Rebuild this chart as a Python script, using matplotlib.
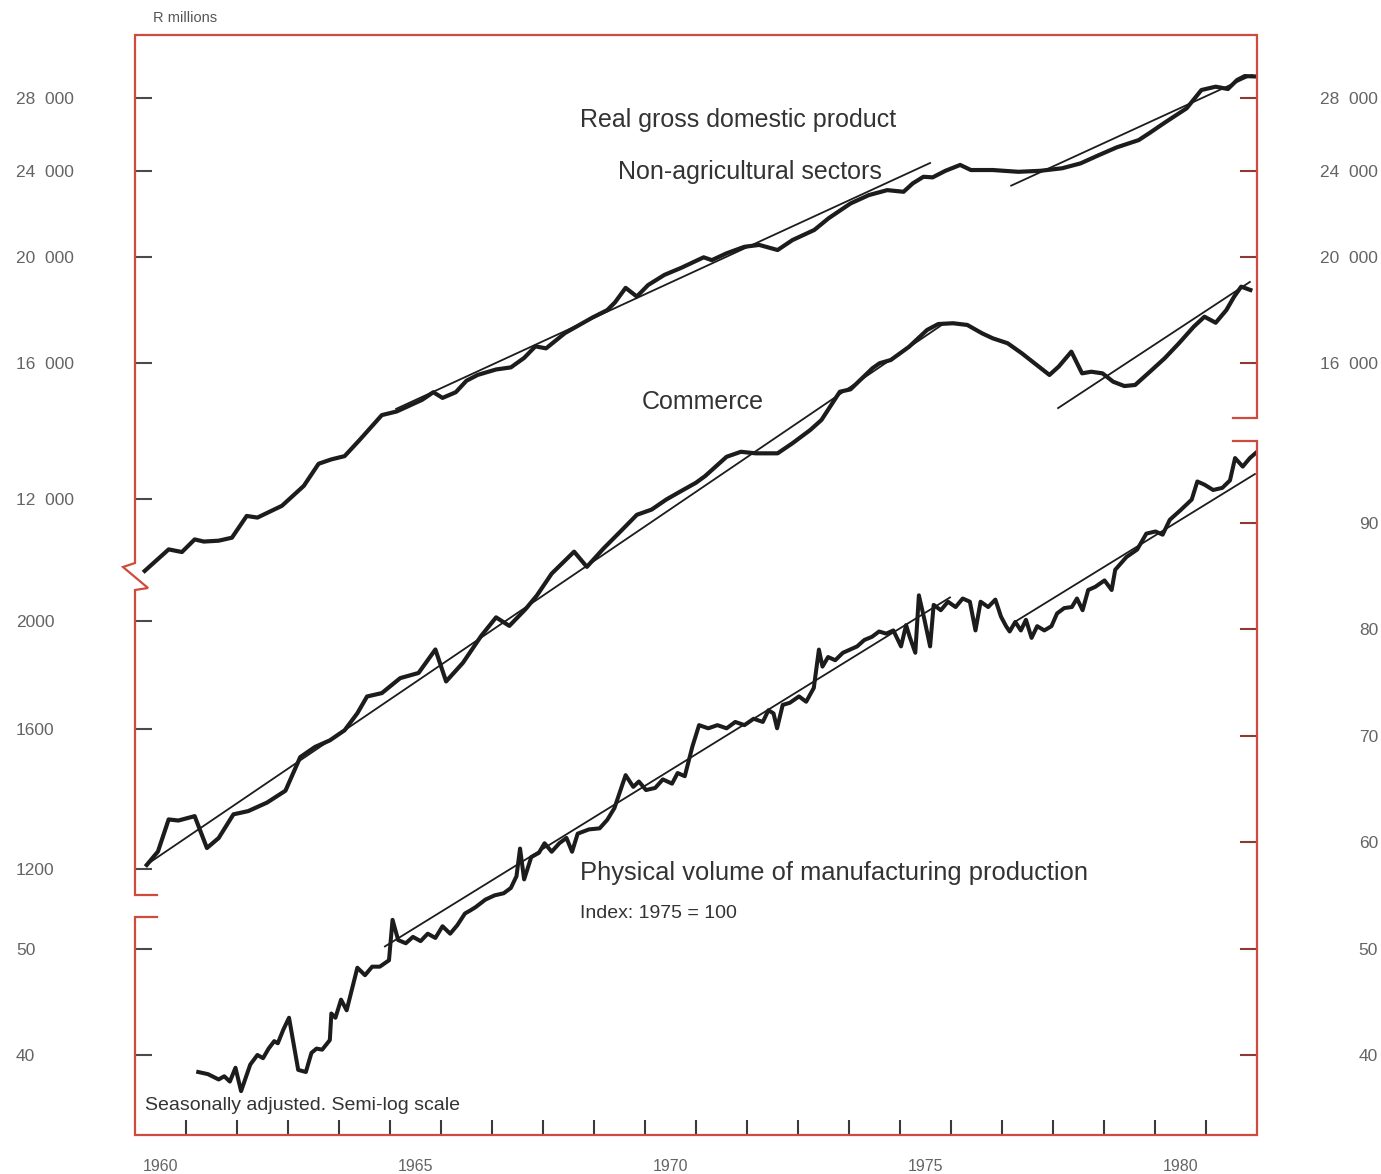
from __future__ import annotations

import matplotlib

matplotlib.use("Agg")
import matplotlib.pyplot as plt
from matplotlib.lines import Line2D
from matplotlib.ticker import NullLocator

OUTPUT_PATH = "out.png"
W, H, DPI = 1381, 1174, 100
PX_PER_PT = DPI / 72

# plot frame in pixels
AX_LEFT, AX_RIGHT, AX_TOP, AX_BOTTOM = 135, 1257, 35, 1135

FRAME = "#cf4b3d"
INK = "#1c1c1c"
TEXT = "#333333"
LABEL = "#646464"

# --- Real GDP, non-agricultural sectors (R millions, log) ---
gdp_year = [1960.19, 1960.66, 1960.92, 1961.17, 1961.35, 1961.64, 1961.90, 1962.19, 1962.40, 1962.88,
            1963.31, 1963.60, 1963.85, 1964.11, 1964.40, 1964.84, 1965.13, 1965.63, 1965.85, 1966.03,
            1966.29, 1966.50, 1966.72, 1967.08, 1967.37, 1967.63, 1967.85, 1968.06, 1968.43, 1968.97,
            1969.26, 1969.41, 1969.62, 1969.84, 1970.06, 1970.38, 1970.71, 1971.15, 1971.31, 1971.60,
            1971.95, 1972.24, 1972.60, 1972.89, 1973.32, 1973.60, 1974.03, 1974.39, 1974.75, 1975.07,
            1975.25, 1975.46, 1975.64, 1975.89, 1976.18, 1976.39, 1976.82, 1977.32, 1977.75, 1978.18,
            1978.54, 1978.90, 1979.25, 1979.68, 1979.90, 1980.19, 1980.62, 1980.91, 1981.19, 1981.43,
            1981.61, 1981.76, 1981.94]
gdp_value = [10310, 10790, 10730, 11020, 10970, 10990, 11060, 11580, 11540, 11830,
             12340, 12930, 13050, 13140, 13590, 14330, 14440, 14800, 15040, 14860,
             15040, 15410, 15600, 15780, 15850, 16170, 16570, 16500, 17040, 17610,
             17890, 18180, 18750, 18410, 18860, 19270, 19560, 20000, 19880, 20170,
             20450, 20530, 20310, 20740, 21190, 21720, 22410, 22810, 23050, 22970,
             23380, 23710, 23680, 24010, 24310, 24050, 24050, 23960, 24010, 24140,
             24390, 24820, 25230, 25620, 26020, 26580, 27400, 28480, 28680, 28540,
             29090, 29330, 29310]
gdp_trend_year = [(1965.12, 1975.59), (1977.18, 1981.90)]
gdp_trend_value = [(14520, 24410), (23270, 29390)]

# --- Commerce (R millions, log) ---
com_year = [1960.23, 1960.45, 1960.66, 1960.85, 1961.17, 1961.41, 1961.64, 1961.93, 1962.22, 1962.59,
            1962.95, 1963.24, 1963.53, 1963.82, 1964.11, 1964.36, 1964.55, 1964.84, 1965.20, 1965.56,
            1965.89, 1966.10, 1966.43, 1966.79, 1967.08, 1967.34, 1967.66, 1967.88, 1968.17, 1968.61,
            1968.86, 1969.19, 1969.55, 1969.84, 1970.13, 1970.42, 1970.71, 1971.00, 1971.18, 1971.60,
            1971.88, 1972.17, 1972.60, 1972.89, 1973.24, 1973.46, 1973.82, 1974.03, 1974.46, 1974.60,
            1974.82, 1975.18, 1975.53, 1975.75, 1976.04, 1976.32, 1976.61, 1976.82, 1977.11, 1977.39,
            1977.68, 1977.93, 1978.11, 1978.36, 1978.57, 1978.75, 1978.97, 1979.18, 1979.40, 1979.61,
            1979.90, 1980.19, 1980.47, 1980.76, 1980.97, 1981.19, 1981.40, 1981.55, 1981.69, 1981.87]
com_value = [1210, 1244, 1329, 1326, 1338, 1253, 1279, 1343, 1352, 1376,
             1410, 1511, 1543, 1564, 1597, 1654, 1712, 1724, 1778, 1797,
             1886, 1766, 1835, 1940, 2015, 1980, 2050, 2108, 2205, 2307,
             2236, 2323, 2413, 2489, 2516, 2569, 2614, 2659, 2696, 2805,
             2834, 2825, 2825, 2884, 2964, 3026, 3207, 3223, 3366, 3401,
             3424, 3519, 3642, 3687, 3693, 3680, 3617, 3580, 3544, 3471,
             3389, 3320, 3377, 3483, 3331, 3342, 3331, 3274, 3245, 3252,
             3342, 3436, 3544, 3667, 3743, 3697, 3795, 3900, 3982, 3955]
com_trend_year = [(1960.24, 1975.82), (1978.10, 1981.86)]
com_trend_value = [(1212, 3680), (3101, 4021)]

# --- Physical volume of manufacturing production (index 1975 = 100) ---
man_year = [1961.24, 1961.43, 1961.64, 1961.75, 1961.86, 1961.97, 1962.08, 1962.26, 1962.40, 1962.51,
            1962.62, 1962.73, 1962.80, 1962.91, 1963.02, 1963.20, 1963.35, 1963.46, 1963.56, 1963.67,
            1963.82, 1963.85, 1963.93, 1964.04, 1964.15, 1964.25, 1964.36, 1964.51, 1964.65, 1964.80,
            1964.98, 1965.05, 1965.16, 1965.31, 1965.45, 1965.60, 1965.74, 1965.89, 1966.03, 1966.18,
            1966.32, 1966.47, 1966.58, 1966.68, 1966.87, 1967.05, 1967.23, 1967.37, 1967.48, 1967.55,
            1967.63, 1967.77, 1967.92, 1968.03, 1968.17, 1968.32, 1968.46, 1968.57, 1968.68, 1968.90,
            1969.11, 1969.26, 1969.40, 1969.62, 1969.77, 1969.88, 1970.02, 1970.20, 1970.35, 1970.53,
            1970.64, 1970.78, 1970.93, 1971.06, 1971.24, 1971.42, 1971.60, 1971.77, 1971.95, 1972.13,
            1972.31, 1972.42, 1972.52, 1972.59, 1972.70, 1972.84, 1973.02, 1973.16, 1973.31, 1973.41,
            1973.48, 1973.59, 1973.73, 1973.88, 1974.02, 1974.16, 1974.30, 1974.45, 1974.59, 1974.73,
            1974.87, 1975.02, 1975.12, 1975.19, 1975.30, 1975.37, 1975.48, 1975.59, 1975.66, 1975.80,
            1975.94, 1976.09, 1976.23, 1976.37, 1976.48, 1976.58, 1976.73, 1976.87, 1976.98, 1977.08,
            1977.15, 1977.26, 1977.37, 1977.47, 1977.58, 1977.69, 1977.83, 1977.97, 1978.08, 1978.22,
            1978.37, 1978.47, 1978.58, 1978.69, 1978.83, 1979.01, 1979.15, 1979.22, 1979.44, 1979.65,
            1979.83, 1980.01, 1980.15, 1980.29, 1980.50, 1980.72, 1980.83, 1980.97, 1981.14, 1981.32,
            1981.47, 1981.57, 1981.72, 1981.86, 1981.98]
man_value = [38.4, 38.2, 37.7, 38.0, 37.5, 38.8, 36.6, 39.1, 40.0, 39.7,
             40.6, 41.3, 41.1, 42.4, 43.5, 38.6, 38.4, 40.2, 40.6, 40.5,
             41.4, 43.9, 43.5, 45.2, 44.2, 46.1, 48.2, 47.5, 48.3, 48.3,
             48.9, 52.7, 50.8, 50.5, 51.1, 50.7, 51.4, 51.0, 52.1, 51.4,
             52.2, 53.3, 53.6, 53.9, 54.6, 55.0, 55.2, 55.7, 56.8, 59.4,
             56.5, 58.6, 59.0, 59.9, 59.1, 59.9, 60.4, 59.1, 60.8, 61.2,
             61.3, 62.1, 63.2, 66.3, 65.2, 65.7, 64.9, 65.1, 65.9, 65.5,
             66.5, 66.2, 69.0, 71.0, 70.7, 71.0, 70.7, 71.3, 71.0, 71.6,
             71.3, 72.4, 72.1, 70.7, 72.9, 73.1, 73.7, 73.2, 74.5, 78.1,
             76.5, 77.4, 77.1, 77.8, 78.1, 78.4, 79.0, 79.3, 79.8, 79.6,
             79.9, 78.4, 80.4, 79.3, 77.8, 83.2, 80.9, 78.4, 82.3, 81.8,
             82.6, 82.1, 82.9, 82.6, 79.9, 82.6, 82.1, 82.8, 81.2, 80.3,
             79.8, 80.7, 79.9, 80.9, 79.2, 80.3, 79.9, 80.3, 81.5, 82.0,
             82.1, 82.9, 81.8, 83.7, 84.0, 84.6, 83.7, 85.6, 86.8, 87.5,
             89.0, 89.2, 88.9, 90.3, 91.2, 92.2, 93.9, 93.6, 93.1, 93.3,
             94.0, 96.1, 95.3, 96.1, 96.6]
man_trend_year = [(1964.90, 1975.98), (1977.25, 1981.96)]
man_trend_value = [(50.2, 83.0), (80.7, 94.6)]

# --- axis ticks and labels ---
year_ticks = list(range(1961, 1982))
year_labels = ["1960", "1965", "1970", "1975", "1980"]
gdp_left_ticks = [12000, 16000, 20000, 24000, 28000]
gdp_right_ticks = [16000, 20000, 24000, 28000]
com_ticks = [1200, 1600, 2000]
man_left_ticks = [40, 50]
man_right_ticks = [40, 50, 60, 70, 80, 90]

# y-limits that put each series on its own band of the shared frame
GDP_LIM = (3131, 31990)
COM_LIM = (693.8, 6687)
MAN_LIM = (32.48, 135.86)


def fig_xy(x, y):
    return x / W, 1 - y / H


def thousands(v):
    s = f"{v:,}".replace(",", "  ")
    return s if v >= 10000 else str(v)


def style_y(a, side, ticks, color):
    a.set_yticks(ticks, [thousands(t) for t in ticks])
    a.yaxis.set_minor_locator(NullLocator())
    if side == "left":
        a.yaxis.tick_left()
        pad = (AX_LEFT - 16) / PX_PER_PT
    else:
        a.yaxis.tick_right()
        pad = (1378 - AX_RIGHT) / PX_PER_PT
    a.tick_params(axis="y", which="major", direction="in", length=12, width=1.5,
                  color=color, labelsize=12.5, labelcolor=LABEL, pad=pad)
    for t in a.get_yticklabels():
        t.set_horizontalalignment(side)
    for s in a.spines.values():
        s.set_visible(False)


def main() -> None:
    plt.rcParams["font.family"] = ["Liberation Sans", "DejaVu Sans"]
    fig = plt.figure(figsize=(W / DPI, H / DPI), dpi=DPI)
    ax = fig.add_axes([AX_LEFT / W, (H - AX_BOTTOM) / H,
                       (AX_RIGHT - AX_LEFT) / W, (AX_BOTTOM - AX_TOP) / H])
    ax.set_xlim(1960, 1982)
    ax.set_yscale("log")
    ax.set_ylim(*GDP_LIM)

    ax_gdp_r = ax.twinx()
    ax_gdp_r.set_yscale("log")
    ax_gdp_r.set_ylim(*GDP_LIM)
    ax_com = ax.twinx()
    ax_com.set_yscale("log")
    ax_com.set_ylim(*COM_LIM)
    ax_man_l = ax.twinx()
    ax_man_l.set_ylim(*MAN_LIM)
    ax_man = ax.twinx()
    ax_man.set_ylim(*MAN_LIM)

    style_y(ax, "left", gdp_left_ticks, "#4a4a4a")
    style_y(ax_gdp_r, "right", gdp_right_ticks, "#8c3a33")
    style_y(ax_com, "left", com_ticks, "#4a4a4a")
    style_y(ax_man_l, "left", man_left_ticks, "#4a4a4a")
    style_y(ax_man, "right", man_right_ticks, "#8c3a33")

    # year ticks between years, labels centred in the year
    ax.set_xticks(year_ticks, [""] * len(year_ticks))
    ax.set_xticks([int(y) + 0.5 for y in year_labels], year_labels, minor=True)
    ax.tick_params(axis="x", which="major", direction="in", length=11, width=1.5, color="#3a3a3a")
    ax.tick_params(axis="x", which="minor", length=0, pad=17, labelsize=11.5, labelcolor=LABEL)

    # series
    ax.plot(gdp_year, gdp_value, color=INK, lw=3.0)
    for xs, vs in zip(gdp_trend_year, gdp_trend_value):
        ax.plot(xs, vs, color=INK, lw=1.3)
    ax_com.plot(com_year, com_value, color=INK, lw=3.0)
    for xs, vs in zip(com_trend_year, com_trend_value):
        ax_com.plot(xs, vs, color=INK, lw=1.3)
    ax_man.plot(man_year, man_value, color=INK, lw=2.9)
    for xs, vs in zip(man_trend_year, man_trend_value):
        ax_man.plot(xs, vs, color=INK, lw=1.3)

    # broken frame with zigzag on the left and gaps at the scale changes
    upper = [(1233, 418), (AX_RIGHT, 418), (AX_RIGHT, AX_TOP), (AX_LEFT, AX_TOP),
             (AX_LEFT, 563), (123, 567), (148, 588), (AX_LEFT, 590), (AX_LEFT, 895), (157, 895)]
    lower = [(157, 917), (AX_LEFT, 917), (AX_LEFT, AX_BOTTOM), (AX_RIGHT, AX_BOTTOM),
             (AX_RIGHT, 441), (1233, 441)]
    for path in (upper, lower):
        pts = [fig_xy(x, y) for x, y in path]
        fig.add_artist(Line2D([p[0] for p in pts], [p[1] for p in pts],
                              transform=fig.transFigure, color=FRAME, lw=1.6,
                              solid_joinstyle="miter", zorder=10))

    # annotations
    big = dict(fontsize=18, color=TEXT, va="center", ha="left")
    fig.text(*fig_xy(580, 120), "Real gross domestic product", **big)
    fig.text(*fig_xy(618, 172), "Non-agricultural sectors", **big)
    fig.text(*fig_xy(642, 402), "Commerce", **big)
    fig.text(*fig_xy(580, 873), "Physical volume of manufacturing production",
             fontsize=18.4, color=TEXT, va="center", ha="left")
    fig.text(*fig_xy(580, 914), "Index: 1975 = 100", fontsize=14, color=TEXT, va="center")
    fig.text(*fig_xy(145, 1105), "Seasonally adjusted. Semi-log scale",
             fontsize=14, color=TEXT, va="center")
    fig.text(*fig_xy(153, 18), "R millions", fontsize=10.5, color="#555555", va="center")

    fig.savefig(OUTPUT_PATH, dpi=DPI)
    plt.close(fig)
    print(f"Wrote {OUTPUT_PATH}")


if __name__ == "__main__":
    main()
